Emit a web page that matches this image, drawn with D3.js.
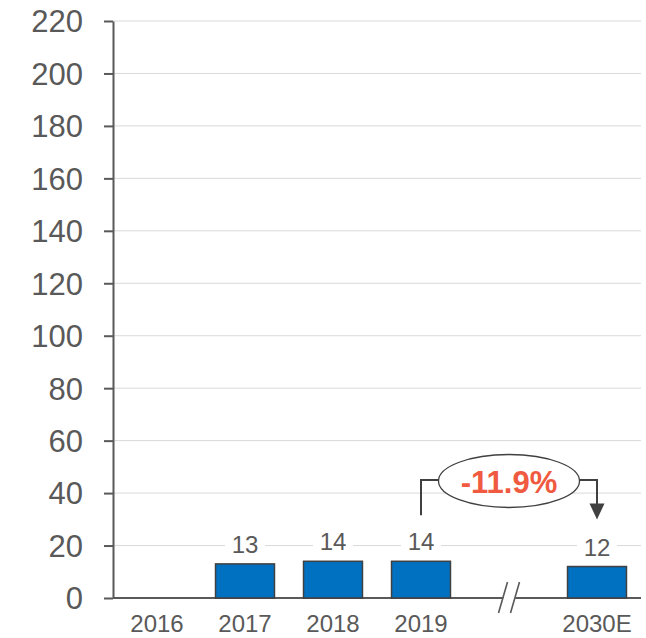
<!DOCTYPE html>
<html>
<head>
<meta charset="utf-8">
<script src="https://cdn.jsdelivr.net/npm/d3@7"></script>
<style>
  html, body { margin: 0; padding: 0; background: #fff; }
  svg { display: block; font-family: "Liberation Sans", Arial, sans-serif; }
</style>
</head>
<body>
<svg id="chart" width="646" height="638"></svg>
<script>
// Yearly values (2016 has no bar)
const categories = ["2016", "2017", "2018", "2019", "2030E"];
const values = [null, 13, 14, 14, 12];
const yTicks = [0, 20, 40, 60, 80, 100, 120, 140, 160, 180, 200, 220];
const changeLabel = "-11.9%";
const changeFrom = "2019";
const changeTo = "2030E";

const W = 646, H = 638;
const margin = { left: 113, right: 5, top: 21, bottom: 40 };
const svg = d3.select("#chart");

// band slots include an empty slot where the time axis is broken
const slots = ["2016", "2017", "2018", "2019", "__break", "2030E"];
const x = d3.scaleBand()
  .domain(slots)
  .range([margin.left, W - margin.right])
  .paddingInner(0.33)
  .paddingOuter(0.165);
const y = d3.scaleLinear()
  .domain([0, 220])
  .range([H - margin.bottom, margin.top]);

const axisColor = "#595959";
const textColor = "#595959";

// horizontal gridlines
svg.append("g")
  .selectAll("line")
  .data(yTicks.filter(d => d > 0))
  .join("line")
  .attr("x1", margin.left)
  .attr("x2", W - margin.right)
  .attr("y1", d => y(d))
  .attr("y2", d => y(d))
  .attr("stroke", "#d9d9d9")
  .attr("stroke-width", 1);

// y axis
const yAxis = svg.append("g")
  .attr("transform", `translate(${margin.left},0)`)
  .call(d3.axisLeft(y).tickValues(yTicks).tickSize(9).tickPadding(21).tickSizeOuter(0));
yAxis.select(".domain").attr("stroke", axisColor).attr("stroke-width", 2);
yAxis.selectAll(".tick line").attr("stroke", axisColor).attr("stroke-width", 2);
yAxis.selectAll(".tick text")
  .attr("fill", textColor)
  .attr("dy", "0.35em")
  .style("font-size", "31px")
  .style("font-family", "'Liberation Sans', Arial, sans-serif");

// x axis baseline
svg.append("line")
  .attr("x1", margin.left)
  .attr("x2", W - margin.right)
  .attr("y1", y(0))
  .attr("y2", y(0))
  .attr("stroke", axisColor)
  .attr("stroke-width", 2);

// category labels
svg.append("g")
  .selectAll("text")
  .data(categories)
  .join("text")
  .attr("x", d => x(d) + x.bandwidth() / 2)
  .attr("y", y(0) + 34)
  .attr("text-anchor", "middle")
  .attr("fill", textColor)
  .style("font-size", "24px")
  .text(d => d);

// axis break marks
const bx = x("__break") + x.bandwidth() / 2;
const by = y(0);
svg.append("polygon")
  .attr("points", [[bx - 10, by + 15], [bx - 1, by - 16], [bx + 11, by - 16], [bx + 2, by + 15]].map(p => p.join(",")).join(" "))
  .attr("fill", "#fff");
[-6, 6].forEach(off => {
  svg.append("line")
    .attr("x1", bx + off - 4.5).attr("y1", by + 15)
    .attr("x2", bx + off + 4.5).attr("y2", by - 16)
    .attr("stroke", axisColor)
    .attr("stroke-width", 1.6);
});

// bars
const barData = categories.map((c, i) => ({ c, v: values[i] })).filter(d => d.v != null);
svg.append("g")
  .selectAll("rect")
  .data(barData)
  .join("rect")
  .attr("x", d => x(d.c))
  .attr("width", x.bandwidth())
  .attr("y", d => y(d.v))
  .attr("height", d => y(0) - y(d.v))
  .attr("fill", "#0070C0")
  .attr("stroke", "#404040")
  .attr("stroke-width", 1.5);

// value labels with white backing over gridlines
const lbl = svg.append("g")
  .selectAll("g")
  .data(barData)
  .join("g")
  .attr("transform", d => `translate(${x(d.c) + x.bandwidth() / 2},${y(d.v) - 11})`);
lbl.append("rect")
  .attr("x", -20).attr("y", -22).attr("width", 40).attr("height", 24)
  .attr("fill", "#fff");
lbl.append("text")
  .attr("text-anchor", "middle")
  .attr("fill", textColor)
  .style("font-size", "24px")
  .text(d => d.v);

// change annotation between 2019 and 2030E
const x1 = x(changeFrom) + x.bandwidth() / 2;
const x2 = x(changeTo) + x.bandwidth() / 2;
const vFrom = values[categories.indexOf(changeFrom)];
const vTo = values[categories.indexOf(changeTo)];
const levelY = y(45);
const cx = (x1 + x2) / 2;
const ann = svg.append("g");
ann.append("path")
  .attr("d", `M${x1},${y(vFrom) - 46} V${levelY} H${x2} V${y(vTo) - 62}`)
  .attr("fill", "none")
  .attr("stroke", "#404040")
  .attr("stroke-width", 2);
ann.append("path")
  .attr("d", `M${x2 - 7.5},${y(vTo) - 63} L${x2 + 7.5},${y(vTo) - 63} L${x2},${y(vTo) - 47} Z`)
  .attr("fill", "#404040");
ann.append("ellipse")
  .attr("cx", cx)
  .attr("cy", levelY + 1)
  .attr("rx", 70.5)
  .attr("ry", 26.5)
  .attr("fill", "#fff")
  .attr("stroke", "#404040")
  .attr("stroke-width", 1.3);
ann.append("text")
  .attr("x", cx)
  .attr("y", levelY + 13)
  .attr("text-anchor", "middle")
  .attr("fill", "#F05A40")
  .style("font-size", "31px")
  .style("font-weight", "bold")
  .text(changeLabel);
</script>
</body>
</html>
